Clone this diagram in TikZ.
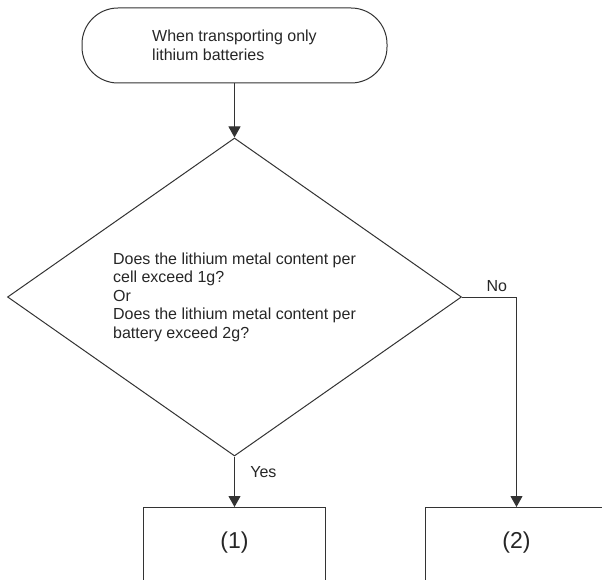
\documentclass[tikz,border=0pt]{standalone}
\usepackage{fontspec}
\setmainfont{Liberation Sans}
\usetikzlibrary{arrows.meta,shapes.geometric}

\tikzset{
	flowline/.style={draw=black!80,line width=1pt,-{Triangle[length=11pt,width=12pt]}},
	flowtext/.style={text=black!85,font=\fontsize{16}{18.5}\selectfont},
	startbox/.style={flowtext,shape=rectangle,draw=black!80,line width=1pt,rounded corners=36pt,minimum width=305pt,minimum height=75pt,align=left},
	askbox/.style={flowtext,shape=diamond,aspect=1.43,draw=black!80,line width=1pt,minimum width=454pt,minimum height=318pt,align=left,inner sep=0pt},
	endbox/.style={flowtext,shape=rectangle,draw=black!80,line width=1pt,minimum width=182pt,anchor=north,inner sep=0pt,text height=41pt,text depth=62pt,font=\fontsize{23}{26}\selectfont}
}

\begin{document}
\begin{tikzpicture}[x=1pt,y=-1pt]
			\useasboundingbox (0,0) rectangle (602,580);
			\clip (0,0) rectangle (602,580);
			
			\node[startbox] (start) at (234.5,45.5) {When transporting only\\lithium batteries};
			\node[askbox] (ask) at (234.5,297) {Does the lithium metal content per\\cell exceed 1g?\\Or\\Does the lithium metal content per\\battery exceed 2g?};
			\node[endbox] (one) at (234.5,507) {(1)};
			\node[endbox] (two) at (516.5,507) {(2)};
			
			\path [flowline] (start) -- (ask);
			\path [flowline] (ask.south) -- node[flowtext,right,pos=0.3,xshift=12pt] {Yes} (one.north);
			\path [flowline] (ask.east) -| node[flowtext,above,pos=0.32,yshift=2pt] {No} (two.north);
			
			\end{tikzpicture}
\end{document}
